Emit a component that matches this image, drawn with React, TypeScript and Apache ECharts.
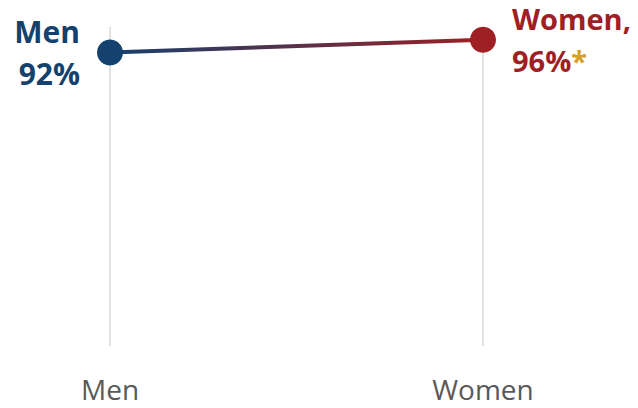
import React, { useEffect, useRef } from "react";
import * as echarts from "echarts";

const categories = ["Men", "Women"];
const values = [92, 96];
const valueLabels = ["92%", "96%"];
const pointColors = ["#15416e", "#9e1f24"];

export default function App() {
  const ref = useRef<HTMLDivElement>(null);
  useEffect(() => {
    if (!ref.current) return;
    const chart = echarts.init(ref.current, null, { renderer: "svg" });
    const font = "'Open Sans', 'Noto Sans', sans-serif";
    chart.setOption({
      animation: false,
      grid: { left: 110, right: 155, top: 27, bottom: 62, containLabel: false },
      xAxis: {
        type: "category",
        data: categories,
        boundaryGap: false,
        axisLine: { show: false },
        axisTick: { show: false },
        splitLine: { show: true, lineStyle: { color: "#d9d9d9", width: 1.5 } },
        axisLabel: { fontSize: 28, lineHeight: 28, color: "#595959", fontFamily: font, margin: 29 },
      },
      yAxis: { type: "value", min: 0, max: 100, show: false },
      series: [
        {
          type: "line",
          symbol: "circle",
          symbolSize: 26,
          lineStyle: {
            width: 4,
            color: new echarts.graphic.LinearGradient(0, 0, 1, 0, [
              { offset: 0, color: pointColors[0] },
              { offset: 1, color: pointColors[1] },
            ]),
          },
          data: [
            {
              value: values[0],
              itemStyle: { color: pointColors[0] },
              label: {
                show: true,
                position: "left",
                distance: 17,
                align: "right",
                formatter: `{a|${categories[0]}}\n{a|${valueLabels[0]}}`,
                rich: {
                  a: { fontSize: 30, fontWeight: "bold", color: pointColors[0], fontFamily: font, lineHeight: 42, align: "right" },
                },
              },
            },
            {
              value: values[1],
              itemStyle: { color: pointColors[1] },
              label: {
                show: true,
                position: "right",
                distance: 16,
                align: "left",
                formatter: `{a|${categories[1]},}\n{a|${valueLabels[1]}}{b|*}`,
                rich: {
                  a: { fontSize: 29, fontWeight: "bold", color: pointColors[1], fontFamily: font, lineHeight: 42 },
                  b: { fontSize: 29, fontWeight: "bold", color: "#d6a02b", fontFamily: font, lineHeight: 42 },
                },
              },
            },
          ],
        },
      ],
    });
    return () => chart.dispose();
  }, []);
  return (
    <div
      ref={ref}
      style={{ position: "fixed", left: 0, top: 0, width: 638, height: 408, background: "#fff" }}
    />
  );
}
